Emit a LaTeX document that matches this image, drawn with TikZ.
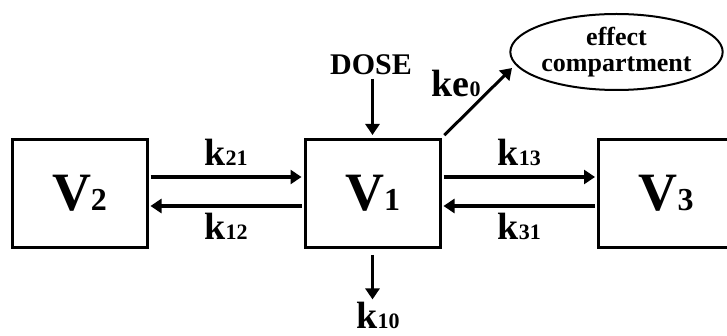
\documentclass[tikz,border=0pt]{standalone}
\usepackage{fontspec}
\setmainfont{Liberation Serif}
\usetikzlibrary{arrows.meta,shapes.geometric}
\newcommand{\Vsub}[1]{{\fontsize{32}{32}\selectfont #1}}
\newcommand{\Ksub}[1]{{\fontsize{22}{22}\selectfont #1}}

\begin{document}
\begin{tikzpicture}[x=1pt, y=-1pt,
  >={Triangle[length=11pt, width=14pt]},
  compbox/.style={draw, line width=3pt, minimum width=135pt,
    minimum height=108pt, inner sep=0pt,
    font=\fontsize{54}{54}\selectfont\bfseries},
  flow/.style={->, line width=3.2pt},
  ratelab/.style={font=\fontsize{38}{38}\selectfont\bfseries},
  effbox/.style={draw, ellipse, line width=2pt, minimum width=201pt,
    minimum height=76pt, inner sep=0pt, align=center,
    font=\fontsize{26}{26}\selectfont\bfseries}
]
\useasboundingbox (0,0) rectangle (727,336);
\clip (0,0) rectangle (727,336);
% the three compartments
\node[compbox] (V2) at (79.5,193.5) {V\Vsub{2}};
\node[compbox] (V1) at (372.5,193.5) {V\Vsub{1}};
\node[compbox] (V3) at (666,193.5) {V\Vsub{3}};
% exchange between the compartments
\draw[flow, shorten <=2pt, shorten >=2pt] ([yshift=16.5pt]V2.east)
  -- node[ratelab, above, inner sep=10pt] {k\Ksub{21}} ([yshift=16.5pt]V1.west);
\draw[flow, shorten <=2pt, shorten >=2pt] ([yshift=-12.5pt]V1.west)
  -- node[ratelab, below, inner sep=6pt] {k\Ksub{12}} ([yshift=-12.5pt]V2.east);
\draw[flow, shorten <=2pt, shorten >=2pt] ([yshift=16.5pt]V1.east)
  -- node[ratelab, above, inner sep=10pt] {k\Ksub{13}} ([yshift=16.5pt]V3.west);
\draw[flow, shorten <=2pt, shorten >=2pt] ([yshift=-12.5pt]V3.west)
  -- node[ratelab, below, inner sep=6pt] {k\Ksub{31}} ([yshift=-12.5pt]V1.east);
% dose in, elimination out
\node[font=\fontsize{30}{30}\selectfont\bfseries, anchor=base] (dose)
  at (371,75) {DOSE};
\draw[flow, line width=2.8pt, shorten >=3pt] (V1.north |- dose.south) -- (V1.north);
\node[ratelab, anchor=base, inner sep=2pt] (k10) at (378,328) {k\Ksub{10}};
\draw[flow, shorten <=6pt] (V1.south) -- (V1.south |- k10.north);
% the effect compartment
\node[effbox] (effect) at (616.5,52) {effect\\compartment};
\node[ratelab, anchor=base] (ke0) at (456,97) {ke\Ksub{0}};
\coordinate (ke0tip) at (512,68);
\draw[flow, line width=3pt, shorten <=4pt] (V1.north east) -- (ke0tip);
\end{tikzpicture}
\end{document}
